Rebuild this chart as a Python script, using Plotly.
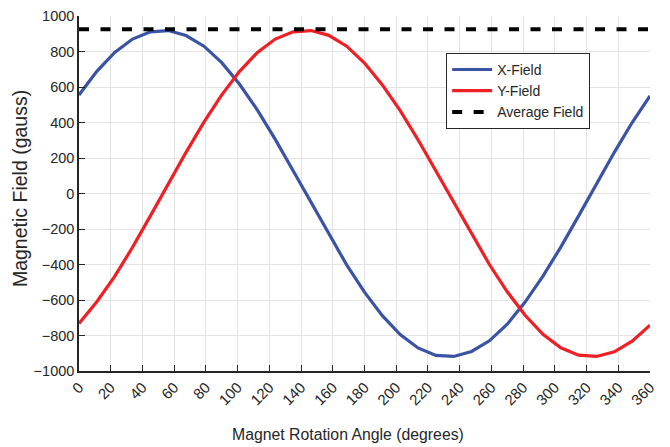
import plotly.graph_objects as go

angles = [0, 11.25, 22.5, 33.75, 45, 56.25, 67.5, 78.75, 90, 101.25, 112.5, 123.75,
          135, 146.25, 157.5, 168.75, 180, 191.25, 202.5, 213.75, 225, 236.25, 247.5,
          258.75, 270, 281.25, 292.5, 303.75, 315, 326.25, 337.5, 348.75, 360]

x_field = [555, 688, 795, 870, 911, 918, 890, 830, 737, 615, 470, 305, 128, -50, -230,
           -402, -556, -688, -795, -870, -912, -918, -890, -830, -736, -612, -466, -302,
           -126, 54, 232, 400, 550]

y_field = [-733, -610, -467, -303, -126, 54, 232, 402, 556, 688, 795, 870, 911, 918, 891,
           830, 735, 612, 467, 303, 128, -52, -230, -400, -554, -686, -793, -869, -911,
           -918, -892, -832, -742]

avg_field = 925

x_ticks = list(range(0, 361, 20))
y_ticks = list(range(-1000, 1001, 200))

FONT = "Liberation Sans, Arial"
TXT = "#262626"

fig = go.Figure()
fig.add_trace(go.Scatter(x=angles, y=x_field, mode="lines", name="X-Field",
                         line=dict(color="#3A53A4", width=3.2)))
fig.add_trace(go.Scatter(x=angles, y=y_field, mode="lines", name="Y-Field",
                         line=dict(color="#EE1F25", width=3.2)))
fig.add_trace(go.Scatter(x=angles, y=[avg_field] * len(angles), mode="lines",
                         name="Average Field",
                         line=dict(color="#000000", width=4, dash="10px,11.5px")))

fig.update_layout(
    width=670, height=447,
    margin=dict(l=79, r=20, t=16, b=76, autoexpand=False),
    plot_bgcolor="white", paper_bgcolor="white",
    font=dict(family=FONT, size=15, color=TXT),
    showlegend=True,
    legend=dict(x=0.643, y=0.896, xanchor="left", yanchor="top",
                bgcolor="white", bordercolor=TXT, borderwidth=1,
                font=dict(family=FONT, size=14, color=TXT),
                tracegroupgap=0, itemwidth=40),
    annotations=[
        dict(text="Magnet Rotation Angle (degrees)", xref="paper", yref="paper",
             x=0.471, y=-0.18, xanchor="center", yanchor="middle", showarrow=False,
             font=dict(family=FONT, size=15.8, color=TXT)),
        dict(text="Magnetic Field (gauss)", xref="paper", yref="paper",
             x=-0.103, y=0.513, xanchor="center", yanchor="middle", showarrow=False,
             textangle=-90, font=dict(family=FONT, size=19.5, color=TXT)),
    ],
)
fig.update_xaxes(
    range=[0, 360], tickvals=x_ticks, ticktext=[str(v) for v in x_ticks],
    tickangle=-45, ticks="inside", ticklen=6, tickcolor=TXT,
    showline=True, linecolor=TXT, linewidth=1.5, automargin=False,
    showgrid=True, gridcolor="#E3E3E3", gridwidth=1, zeroline=False,
    tickfont=dict(family=FONT, size=15, color=TXT),
)
fig.update_yaxes(
    range=[-1000, 1000], tickvals=y_ticks,
    ticks="inside", ticklen=6, tickcolor=TXT,
    showline=True, linecolor=TXT, linewidth=1.5, automargin=False,
    showgrid=True, gridcolor="#E3E3E3", gridwidth=1, zeroline=False,
    tickfont=dict(family=FONT, size=14.5, color=TXT),
)

fig.write_html("out.html")
